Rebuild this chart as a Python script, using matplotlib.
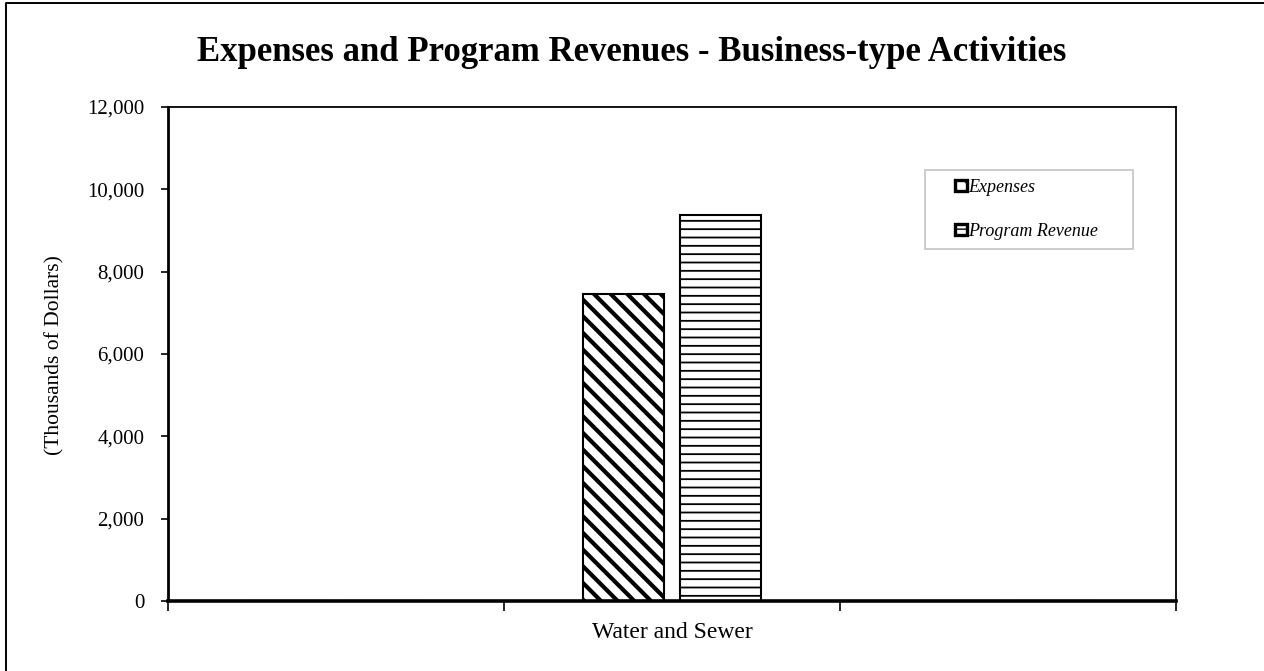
import matplotlib
matplotlib.use("Agg")
import matplotlib.pyplot as plt
from matplotlib.lines import Line2D
from matplotlib.patches import Rectangle
from matplotlib.legend_handler import HandlerPatch, update_from_first_child
from matplotlib.ticker import FuncFormatter
import numpy as np

# Data (thousands of dollars)
categories = ["", "Water and Sewer", ""]
expenses = [0, 7457, 0]
program_revenue = [0, 9377, 0]
series_labels = ["Expenses", "Program Revenue"]

plt.rcParams["font.family"] = ["Liberation Serif", "DejaVu Serif"]

fig = plt.figure(figsize=(12.64, 6.71), dpi=100)
ax = fig.add_axes([0.1329, 0.1043, 0.7975, 0.7362])

# chart frame: only the left and top edges are visible (picture is cropped)
fig.add_artist(Line2D([0.0045, 0.0045, 1.0], [0.0, 0.9955, 0.9955],
                      transform=fig.transFigure, color="black", linewidth=1.4))

x = np.arange(len(categories))
width = 0.241
gap = 0.045

with plt.rc_context({"hatch.linewidth": 3.0}):
    b1 = ax.bar(x - (width + gap) / 2, expenses, width, color="white", edgecolor="black",
                linewidth=1.5, hatch="\\\\", label=series_labels[0])
with plt.rc_context({"hatch.linewidth": 1.3}):
    b2 = ax.bar(x + (width + gap) / 2, program_revenue, width, color="white", edgecolor="black",
                linewidth=1.5, hatch="--", label=series_labels[1])

ax.set_xlim(-0.5, len(categories) - 0.5)
ax.set_ylim(0, 12000)
ax.set_yticks(np.arange(0, 12001, 2000))
ax.yaxis.set_major_formatter(FuncFormatter(lambda v, _: f"{int(v):,}"))
ax.tick_params(axis="y", direction="out", length=5, width=1.2, labelsize=15, pad=12)

# category boundaries as major ticks, names on minor ticks
ax.set_xticks(np.arange(-0.5, len(categories), 1.0))
ax.set_xticklabels([])
ax.set_xticks(x, minor=True)
ax.set_xticklabels(categories, minor=True, fontsize=17)
ax.tick_params(axis="x", which="major", direction="out", length=7, width=1.2)
ax.tick_params(axis="x", which="minor", length=0, pad=15)

fig.text(55 / 1264, 1 - 355 / 671, "(Thousands of Dollars)", rotation=90,
         ha="center", va="center", fontsize=15.5)

ax.spines["left"].set_linewidth(2.0)
ax.spines["bottom"].set_linewidth(2.6)
ax.spines["top"].set_linewidth(1.3)
ax.spines["right"].set_linewidth(1.3)

fig.text(0.5, 0.9225, "Expenses and Program Revenues - Business-type Activities",
         ha="center", va="center", fontsize=25, fontweight="bold")


# small square legend keys sitting at the right end of the handle area
def square_key(legend, orig_handle, xdescent, ydescent, width, height, fontsize):
    return Rectangle((-xdescent + width - height, -ydescent), height, height)


def heavy_key(legend_handle, orig_handle):
    update_from_first_child(legend_handle, orig_handle)
    legend_handle.set_linewidth(2.4)


key_handler = HandlerPatch(patch_func=square_key, update_func=heavy_key)
leg = ax.legend(loc="upper left", bbox_to_anchor=(0.751, 0.7, 0.2063, 0.1725),
                mode="expand", prop={"style": "italic", "size": 13},
                handler_map={type(b1): key_handler},
                handlelength=1.8, handleheight=0.6, handletextpad=0.1,
                labelspacing=1.5, borderpad=0.5, borderaxespad=0,
                fancybox=False, frameon=True)
leg.get_frame().set_edgecolor("#bbbbbb")
leg.get_frame().set_linewidth(1.3)

fig.savefig("out.png", dpi=100)
